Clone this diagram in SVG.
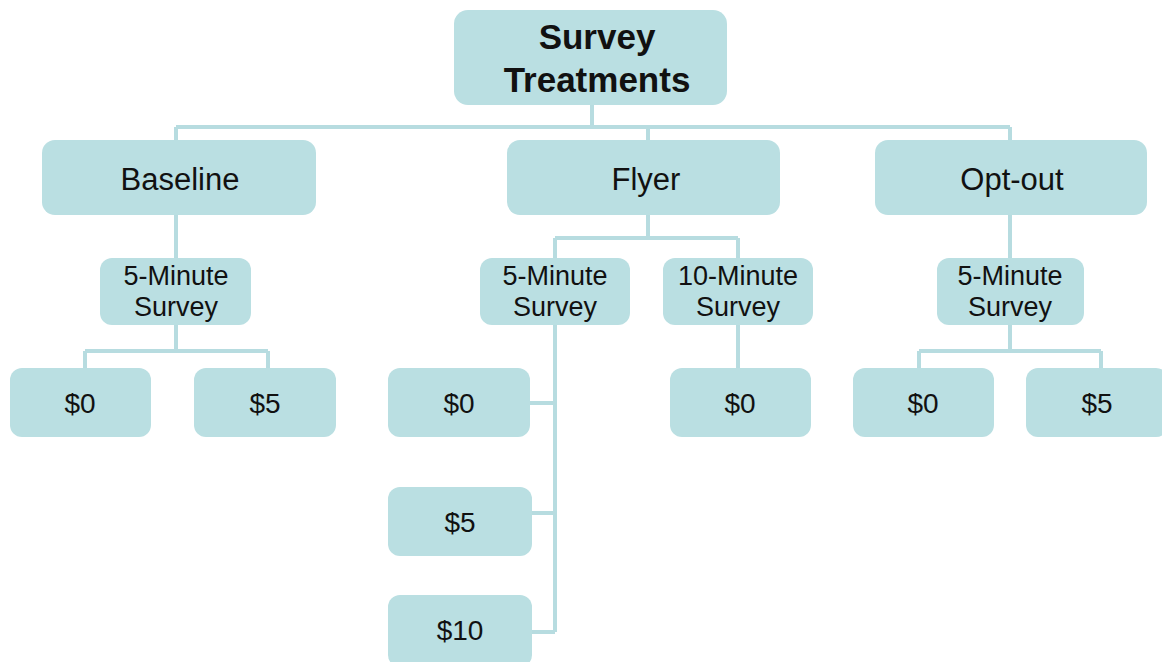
<svg xmlns="http://www.w3.org/2000/svg" width="1162" height="662" viewBox="0 0 1162 662">
<style>
.box{fill:#badfe2;}
.c{stroke:#b7dce0;stroke-width:4;fill:none;}
text{font-family:"Liberation Sans",Arial,sans-serif;fill:#111;text-anchor:middle;}
.t0{font-size:35px;font-weight:bold;}
.t1{font-size:31px;}
.t2{font-size:27px;}
.t3{font-size:28px;}
</style>
<rect width="1162" height="662" fill="#ffffff"/>
<g id="connectors">
<path class="c" d="M592 105V127M176 127H1010M176 127V140M648 127V140M1010 127V140"/>
<path class="c" d="M176 215V258M176 325V351M85 351H268M85 351V368M268 351V368"/>
<path class="c" d="M648 215V238M555 238H738M555 238V258M738 238V258"/>
<path class="c" d="M555 325V632M530 403H555M532 513H555M532 632H555"/>
<path class="c" d="M738 325V368"/>
<path class="c" d="M1010 215V258M1010 325V351M919 351H1101M919 351V368M1101 351V368"/>
</g>
<g id="root"><rect class="box" x="454" y="10" width="273" height="95" rx="14"/><text class="t0" x="597" y="49">Survey</text><text class="t0" x="597" y="92">Treatments</text></g>
<g id="baseline"><rect class="box" x="42" y="140" width="274" height="75" rx="13"/><text class="t1" x="180" y="190">Baseline</text></g>
<g id="flyer"><rect class="box" x="507" y="140" width="273" height="75" rx="13"/><text class="t1" x="646" y="190">Flyer</text></g>
<g id="optout"><rect class="box" x="875" y="140" width="272" height="75" rx="13"/><text class="t1" x="1012" y="190">Opt-out</text></g>
<g id="b5min"><rect class="box" x="100" y="258" width="151" height="67" rx="12"/><text class="t2" x="176" y="285">5-Minute</text><text class="t2" x="176" y="316">Survey</text></g>
<g id="f5min"><rect class="box" x="480" y="258" width="150" height="67" rx="12"/><text class="t2" x="555" y="285">5-Minute</text><text class="t2" x="555" y="316">Survey</text></g>
<g id="f10min"><rect class="box" x="663" y="258" width="150" height="67" rx="12"/><text class="t2" x="738" y="285">10-Minute</text><text class="t2" x="738" y="316">Survey</text></g>
<g id="o5min"><rect class="box" x="937" y="258" width="147" height="67" rx="12"/><text class="t2" x="1010" y="285">5-Minute</text><text class="t2" x="1010" y="316">Survey</text></g>
<g id="b0"><rect class="box" x="10" y="368" width="141" height="69" rx="12"/><text class="t3" x="80" y="413">$0</text></g>
<g id="b5"><rect class="box" x="194" y="368" width="142" height="69" rx="12"/><text class="t3" x="265" y="413">$5</text></g>
<g id="f0"><rect class="box" x="388" y="368" width="142" height="69" rx="12"/><text class="t3" x="459" y="413">$0</text></g>
<g id="f5"><rect class="box" x="388" y="487" width="144" height="69" rx="12"/><text class="t3" x="460" y="532">$5</text></g>
<g id="f10"><rect class="box" x="388" y="595" width="144" height="72" rx="12"/><text class="t3" x="460" y="640">$10</text></g>
<g id="f10m0"><rect class="box" x="670" y="368" width="141" height="69" rx="12"/><text class="t3" x="740" y="413">$0</text></g>
<g id="o0"><rect class="box" x="853" y="368" width="141" height="69" rx="12"/><text class="t3" x="923" y="413">$0</text></g>
<g id="o5"><rect class="box" x="1026" y="368" width="142" height="69" rx="12"/><text class="t3" x="1097" y="413">$5</text></g>
</svg>
